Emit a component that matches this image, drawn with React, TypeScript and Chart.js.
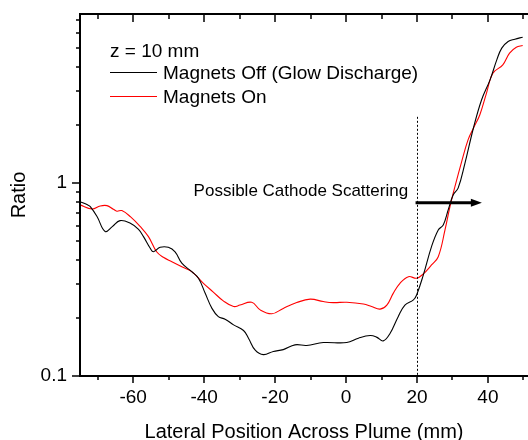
import React, { useEffect, useRef } from "react";
import { Chart, registerables } from "chart.js";

Chart.register(...registerables);

// ---- data ----
const offX = [-75, -72.9, -72.1, -70.2, -67.9, -65.9, -63.7, -60.8, -58.5, -57.1, -55.2, -54.3, -52.4, -50.1, -48.2, -46.3, -43.5, -41.6, -39.7, -37.8, -36, -34.1, -31.7, -28.9, -27.5, -25.6, -23.3, -20.5, -17.7, -14.4, -11.1, -6.4, 0.2, 3.5, 6.8, 8.6, 10.5, 12.4, 14.7, 16.6, 19, 19.9, 21.8, 24.1, 26, 27.4, 28.8, 30.2, 31.6, 33.5, 35.9, 38.2, 40.6, 42.5, 43.9, 45.7, 47.6, 49.8];
const offY = [0.8, 0.77, 0.754, 0.67, 0.56, 0.594, 0.638, 0.618, 0.575, 0.527, 0.459, 0.44, 0.464, 0.464, 0.44, 0.384, 0.347, 0.321, 0.268, 0.224, 0.203, 0.197, 0.184, 0.172, 0.157, 0.136, 0.129, 0.134, 0.137, 0.145, 0.144, 0.149, 0.149, 0.157, 0.162, 0.159, 0.152, 0.166, 0.203, 0.233, 0.248, 0.263, 0.334, 0.468, 0.571, 0.606, 0.725, 0.867, 0.94, 1.26, 1.92, 2.69, 3.42, 4.34, 4.99, 5.4, 5.55, 5.69];

const onX = [-75, -71.6, -69.3, -67.4, -65.6, -64.6, -63.2, -60.8, -58, -55.7, -53.4, -51.5, -49.1, -46.3, -43.5, -40.2, -37.5, -34.6, -31.7, -29.9, -26.6, -24.2, -20.9, -17.7, -13.9, -10.1, -6.4, -3.6, 0.2, 4.9, 7.2, 9.6, 11.5, 13.3, 15.2, 17.6, 19.9, 21.8, 24.1, 26, 27.9, 29.3, 30.7, 32.6, 34.4, 35.9, 37.7, 39.6, 41.4, 44.2, 46.1, 48, 49.8];
const onY = [0.77, 0.733, 0.76, 0.763, 0.731, 0.714, 0.719, 0.669, 0.594, 0.527, 0.44, 0.412, 0.391, 0.368, 0.347, 0.302, 0.273, 0.245, 0.229, 0.233, 0.241, 0.22, 0.21, 0.224, 0.24, 0.25, 0.243, 0.24, 0.241, 0.236, 0.229, 0.222, 0.233, 0.268, 0.302, 0.327, 0.321, 0.338, 0.376, 0.415, 0.571, 0.754, 0.957, 1.29, 1.67, 1.92, 2.25, 2.92, 3.7, 4.09, 4.7, 5.05, 5.15];

const seriesNames = ["Magnets Off (Glow Discharge)", "Magnets On"];
const seriesColors = ["#000000", "#ff0000"];
const legendTitle = "z = 10 mm";

const xTickLabels = [-60, -40, -20, 0, 20, 40];
const xMinorTicks = [-70, -50, -30, -10, 10, 30, 50];
const yTickLabels = [0.1, 1];
const yMinorTicks = [0.2, 0.3, 0.4, 0.5, 0.6, 0.7, 0.8, 0.9, 2, 3, 4, 5, 6, 7];

const X_MIN = -75;
const X_MAX = 51.3;
const Y_MIN = 0.1;
const Y_MAX = 7.5;

const xTitle = "Lateral Position Across Plume (mm)";
const yTitle = "Ratio";

const annotationText = "Possible Cathode Scattering";
const annotationTextX = 17.5;
const annotationTextY = 0.857;
const markerX = 20;
const markerTopY = 2.2;
const arrowFromX = 19.6;
const arrowToX = 38.3;
const arrowY = 0.79;

const FONT = "'Liberation Sans', Arial, Helvetica, sans-serif";

const decorPlugin = {
  id: "decor",
  afterDraw(chart: any) {
    const { ctx, chartArea } = chart;
    const xs = chart.scales.x;
    const ys = chart.scales.y;
    const { left, right, top, bottom } = chartArea;
    ctx.save();

    // dotted marker line
    ctx.strokeStyle = "#000";
    ctx.lineWidth = 1;
    ctx.setLineDash([2, 2]);
    const mx = Math.round(xs.getPixelForValue(markerX)) + 0.5;
    ctx.beginPath();
    ctx.moveTo(mx, ys.getPixelForValue(markerTopY));
    ctx.lineTo(mx, bottom);
    ctx.stroke();
    ctx.setLineDash([]);

    // arrow
    const ax0 = xs.getPixelForValue(arrowFromX);
    const ax1 = xs.getPixelForValue(arrowToX);
    const ay = ys.getPixelForValue(arrowY);
    ctx.lineWidth = 3;
    ctx.beginPath();
    ctx.moveTo(ax0, ay);
    ctx.lineTo(ax1 - 8, ay);
    ctx.stroke();
    ctx.fillStyle = "#000";
    ctx.beginPath();
    ctx.moveTo(ax1, ay);
    ctx.lineTo(ax1 - 11, ay - 4);
    ctx.lineTo(ax1 - 11, ay + 4);
    ctx.closePath();
    ctx.fill();

    // annotation text
    ctx.font = `17px ${FONT}`;
    ctx.textAlign = "right";
    ctx.textBaseline = "alphabetic";
    ctx.fillText(annotationText, xs.getPixelForValue(annotationTextX), ys.getPixelForValue(annotationTextY));

    // legend
    ctx.textAlign = "left";
    ctx.font = `19px ${FONT}`;
    const lx = left + 30;
    ctx.fillText(legendTitle, lx, top + 42.5);
    chart.data.datasets.forEach((ds: any, i: number) => {
      const ly = top + 58 + i * 24;
      ctx.strokeStyle = ds.borderColor;
      ctx.lineWidth = 1;
      ctx.beginPath();
      ctx.moveTo(lx, ly + 0.5);
      ctx.lineTo(lx + 47, ly + 0.5);
      ctx.stroke();
      ctx.fillStyle = "#000";
      ctx.fillText(ds.label, lx + 53, ly + 6.5);
    });

    // axis lines
    ctx.strokeStyle = "#000";
    ctx.lineWidth = 2;
    ctx.beginPath();
    ctx.moveTo(left, top);
    ctx.lineTo(right, top);
    ctx.moveTo(left, top - 1);
    ctx.lineTo(left, bottom + 1);
    ctx.moveTo(left - 1, bottom);
    ctx.lineTo(right, bottom);
    ctx.stroke();

    // ticks
    ctx.lineWidth = 1.5;
    ctx.beginPath();
    const allX = [...xTickLabels.map((v) => [v, 7]), ...xMinorTicks.map((v) => [v, 4])];
    allX.forEach(([v, len]) => {
      const px = Math.round(xs.getPixelForValue(v));
      if (px < left || px > right) return;
      ctx.moveTo(px, bottom);
      ctx.lineTo(px, bottom + len);
      ctx.moveTo(px, top);
      ctx.lineTo(px, top + len + 1);
    });
    const allY = [...yTickLabels.map((v) => [v, 8]), ...yMinorTicks.map((v) => [v, 4])];
    allY.forEach(([v, len]) => {
      const py = Math.round(ys.getPixelForValue(v));
      if (py < top || py > bottom) return;
      ctx.moveTo(left, py);
      ctx.lineTo(left - len, py);
    });
    ctx.stroke();

    ctx.restore();
  },
};

export default function App() {
  const ref = useRef<HTMLCanvasElement | null>(null);

  useEffect(() => {
    document.body.style.margin = "0";
    if (!ref.current) return;
    const chart = new Chart(ref.current, {
      type: "line",
      data: {
        datasets: [
          {
            label: seriesNames[0],
            data: offX.map((x, i) => ({ x, y: offY[i] })),
            borderColor: seriesColors[0],
            borderWidth: 1.1,
            pointRadius: 0,
            tension: 0.4,
            fill: false,
          },
          {
            label: seriesNames[1],
            data: onX.map((x, i) => ({ x, y: onY[i] })),
            borderColor: seriesColors[1],
            borderWidth: 1.1,
            pointRadius: 0,
            tension: 0.4,
            fill: false,
          },
        ],
      },
      options: {
        animation: false,
        responsive: false,
        events: [],
        layout: { padding: { top: 14, left: 0, right: 0, bottom: 0 } },
        plugins: { legend: { display: false }, tooltip: { enabled: false } },
        scales: {
          x: {
            type: "linear",
            min: X_MIN,
            max: X_MAX,
            grid: { display: false, drawTicks: false },
            border: { display: false },
            afterBuildTicks: (s: any) => {
              s.ticks = xTickLabels.map((v) => ({ value: v }));
            },
            afterFit: (s: any) => {
              s.height = 64;
              s.paddingLeft = 0;
              s.paddingRight = 0;
            },
            ticks: {
              padding: 10,
              color: "#000",
              maxRotation: 0,
              autoSkip: false,
              font: { family: FONT, size: 19 },
              callback: (v: any) => String(v),
            },
            title: {
              display: true,
              text: xTitle,
              color: "#000",
              font: { family: FONT, size: 20, lineHeight: 1 },
              padding: { top: 0, bottom: -2.4 },
            },
          },
          y: {
            type: "logarithmic",
            min: Y_MIN,
            max: Y_MAX,
            grid: { display: false, drawTicks: false },
            border: { display: false },
            afterBuildTicks: (s: any) => {
              s.ticks = yTickLabels.map((v) => ({ value: v }));
            },
            afterFit: (s: any) => {
              s.width = 80;
              s.paddingTop = 0;
              s.paddingBottom = 0;
            },
            ticks: {
              padding: 13,
              color: "#000",
              autoSkip: false,
              font: { family: FONT, size: 19 },
              callback: (v: any) => String(v),
            },
            title: {
              display: true,
              text: yTitle,
              color: "#000",
              font: { family: FONT, size: 20, lineHeight: 1.2 },
              padding: { top: 7, bottom: 0 },
            },
          },
        },
      },
      plugins: [decorPlugin],
    } as any);
    return () => chart.destroy();
  }, []);

  return <canvas ref={ref} width={528} height={440} style={{ display: "block" }} />;
}
